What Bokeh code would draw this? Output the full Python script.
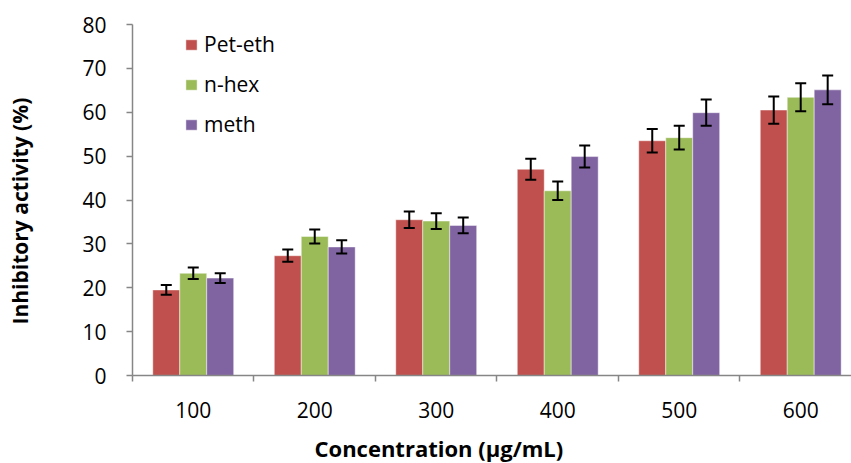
from bokeh.plotting import figure
from bokeh.models import (ColumnDataSource, FixedTicker, Range1d, Whisker, TeeHead,
                          Legend, LegendItem, Title, LinearAxis)
from bokeh.transform import dodge
from bokeh.embed import file_html
from bokeh.resources import INLINE

# ---- data ----
concentrations = ["100", "200", "300", "400", "500", "600"]
pet_eth = [19.5, 27.3, 35.5, 47.0, 53.5, 60.5]
pet_eth_err = [1.1, 1.4, 1.9, 2.4, 2.7, 3.1]
n_hex = [23.3, 31.7, 35.2, 42.1, 54.2, 63.4]
n_hex_err = [1.3, 1.6, 1.8, 2.1, 2.7, 3.2]
meth = [22.2, 29.3, 34.2, 49.9, 59.9, 65.1]
meth_err = [1.1, 1.5, 1.8, 2.5, 3.0, 3.3]
series_names = ["Pet-eth", "n-hex", "meth"]
y_ticks = [0, 10, 20, 30, 40, 50, 60, 70, 80]

colors = ["#C0504D", "#9BBB59", "#8064A2"]
FONT = "Open Sans"
AXIS_GRAY = "#868686"

idx = list(range(len(concentrations)))
bar_w = 0.222
offsets = [-bar_w, 0.0, bar_w]

p = figure(width=851, height=463, output_backend="svg", toolbar_location=None,
           x_range=Range1d(-0.5, 5.418), y_range=Range1d(0, 80),
           min_border_left=132, min_border_right=0, min_border_top=24,
           min_border_bottom=88)
p.outline_line_color = None
p.xgrid.visible = False
p.ygrid.visible = False
p.background_fill_color = "white"
p.border_fill_color = "white"

items = []
for name, vals, errs, col, off in zip(series_names, [pet_eth, n_hex, meth],
                                      [pet_eth_err, n_hex_err, meth_err], colors, offsets):
    src = ColumnDataSource(dict(
        x=idx, top=vals,
        upper=[v + e for v, e in zip(vals, errs)],
        lower=[v - e for v, e in zip(vals, errs)],
    ))
    r = p.vbar(x=dodge("x", off), top="top", bottom=0, width=bar_w, source=src,
               fill_color=col, line_color="white", line_alpha=0.45, line_width=1)
    w = Whisker(base=dodge("x", off), upper="upper", lower="lower", source=src,
                line_color="black", line_width=2, level="overlay",
                upper_head=TeeHead(size=11, line_color="black", line_width=2),
                lower_head=TeeHead(size=11, line_color="black", line_width=2))
    p.add_layout(w)
    items.append(LegendItem(label=name, renderers=[r]))

# x axis: labels at category centres, ticks at category boundaries
xa = p.xaxis[0]
xa.ticker = FixedTicker(ticks=idx, minor_ticks=[i - 0.5 for i in idx] + [idx[-1] + 0.5])
xa.major_label_overrides = {i: c for i, c in zip(idx, concentrations)}
xa.major_tick_line_color = None
xa.minor_tick_in = 0
xa.minor_tick_out = 6
xa.minor_tick_line_color = AXIS_GRAY
xa.minor_tick_line_width = 1.5
xa.axis_line_color = AXIS_GRAY
xa.axis_line_width = 1.5
xa.major_label_text_font = FONT
xa.major_label_text_font_size = "21px"
xa.major_label_text_color = "black"
xa.major_label_standoff = 20

ya = p.yaxis[0]
ya.ticker = FixedTicker(ticks=y_ticks, minor_ticks=[])
ya.major_tick_in = 0
ya.major_tick_out = 6
ya.major_tick_line_color = AXIS_GRAY
ya.major_tick_line_width = 1.5
ya.minor_tick_line_color = None
ya.axis_line_color = AXIS_GRAY
ya.axis_line_width = 1.5
ya.major_label_text_font = FONT
ya.major_label_text_font_size = "21px"
ya.major_label_text_color = "black"
ya.major_label_standoff = 20


def spacer_axis(size, at):
    """A blank axis (white tick, empty label, no line) that only pushes the title outward."""
    return LinearAxis(ticker=FixedTicker(ticks=[at], minor_ticks=[]),
                      major_label_overrides={at: ""},
                      major_label_text_font_size="1px",
                      major_tick_in=0, major_tick_out=size,
                      minor_tick_in=0, minor_tick_out=0,
                      major_label_standoff=0,
                      axis_line_color=None, major_tick_line_color="white",
                      minor_tick_line_color=None)


p.add_layout(spacer_axis(10, idx[0]), "below")
p.add_layout(Title(text="Concentration (µg/mL)", align="left", offset=182,
                   text_font=FONT, text_font_size="22px", text_font_style="bold",
                   text_color="black", standoff=0), "below")

p.add_layout(spacer_axis(46, y_ticks[0]), "left")
p.add_layout(Title(text="Inhibitory activity (%)", align="left", offset=51,
                   text_font=FONT, text_font_size="21px", text_font_style="bold",
                   text_color="black", standoff=0), "left")

legend = Legend(items=items, location=(52, 237))
legend.label_text_font = FONT
legend.label_text_font_size = "21px"
legend.label_text_color = "black"
legend.glyph_width = 14
legend.glyph_height = 13
legend.label_height = 21
legend.label_standoff = 6
legend.spacing = 12
legend.padding = 0
legend.margin = 0
legend.border_line_color = None
legend.background_fill_alpha = 0
p.add_layout(legend, "center")

open("out.html", "w").write(file_html(p, INLINE))
